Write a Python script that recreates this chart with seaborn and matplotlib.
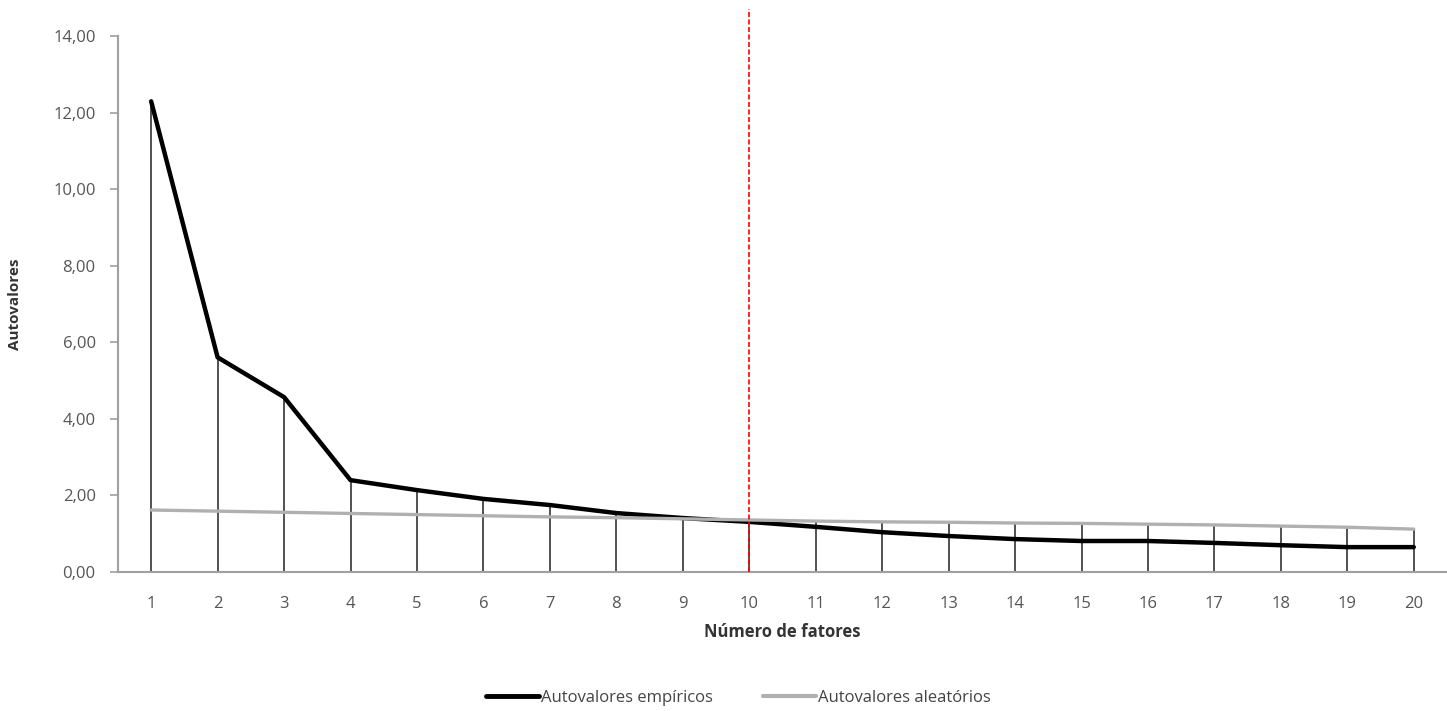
import numpy as np
import pandas as pd
import matplotlib
matplotlib.use("Agg")
import matplotlib.pyplot as plt
import seaborn as sns
from matplotlib.ticker import FuncFormatter
from matplotlib.lines import Line2D

fatores = list(range(1, 21))
empiricos = [12.30, 5.61, 4.57, 2.40, 2.14, 1.91, 1.75, 1.54, 1.41, 1.31,
             1.18, 1.04, 0.94, 0.86, 0.81, 0.81, 0.76, 0.70, 0.65, 0.65]
aleatorios = [1.62, 1.59, 1.56, 1.53, 1.50, 1.47, 1.44, 1.42, 1.39, 1.36,
              1.33, 1.31, 1.30, 1.28, 1.27, 1.25, 1.23, 1.20, 1.17, 1.12]
corte = 10
yticks = [0, 2, 4, 6, 8, 10, 12, 14]

sns.set_style("white")
plt.rcParams['font.family'] = ['Open Sans', 'DejaVu Sans']

df = pd.DataFrame({
    "Número de fatores": fatores * 2,
    "Autovalores": empiricos + aleatorios,
    "Série": ["Autovalores empíricos"] * 20 + ["Autovalores aleatórios"] * 20,
})

fig = plt.figure(figsize=(14.47, 7.11), dpi=100)
ax = fig.add_axes([0.0815, 0.1955, 0.9185, 0.7535])

# drop lines
tops = np.maximum(empiricos, aleatorios)
ax.vlines(fatores, 0, tops, color="#222222", lw=1.1, zorder=1)

sns.lineplot(data=df, x="Número de fatores", y="Autovalores", hue="Série",
             palette={"Autovalores empíricos": "black", "Autovalores aleatórios": "#b0b0b0"},
             size="Série", sizes={"Autovalores empíricos": 3.2, "Autovalores aleatórios": 2.4},
             ax=ax, zorder=3, legend=False)

ax.set_xlim(0.5, 20.5)
ax.set_ylim(0, 14)
ax.set_xticks(fatores)
ax.set_yticks(yticks)
ax.yaxis.set_major_formatter(FuncFormatter(lambda v, p: f"{v:.2f}".replace(".", ",")))

# red dashed cut line extending above the axes
ax.plot([corte, corte], [0, 14.7], color="red", lw=1.2, ls=(0, (3, 1.5)),
        clip_on=False, zorder=4)

for s in ["top", "right"]:
    ax.spines[s].set_visible(False)
for s in ["left", "bottom"]:
    ax.spines[s].set_color("#a0a0a0")
    ax.spines[s].set_linewidth(1.5)

ax.tick_params(axis="y", left=True, length=6, width=1.2, color="#a0a0a0",
               labelsize=12, labelcolor="#555555", pad=10)
ax.tick_params(axis="x", bottom=False, labelsize=12, labelcolor="#555555", pad=14)

ax.set_xlabel("Número de fatores", fontsize=12, fontweight="bold", color="#333333", labelpad=8)
ax.set_ylabel("Autovalores", fontsize=11, fontweight="bold", color="#333333")
ax.yaxis.set_label_coords(-0.072, 0.5)

handles = [Line2D([], [], color="black", lw=3.5),
           Line2D([], [], color="#b0b0b0", lw=3)]
fig.legend(handles, ["Autovalores empíricos", "Autovalores aleatórios"],
           loc="center", bbox_to_anchor=(0.51, 0.018), ncol=2, frameon=False,
           fontsize=12, handlelength=3.2, handletextpad=0.1, columnspacing=3,
           labelcolor="#444444")

fig.savefig("out.png", dpi=100)
